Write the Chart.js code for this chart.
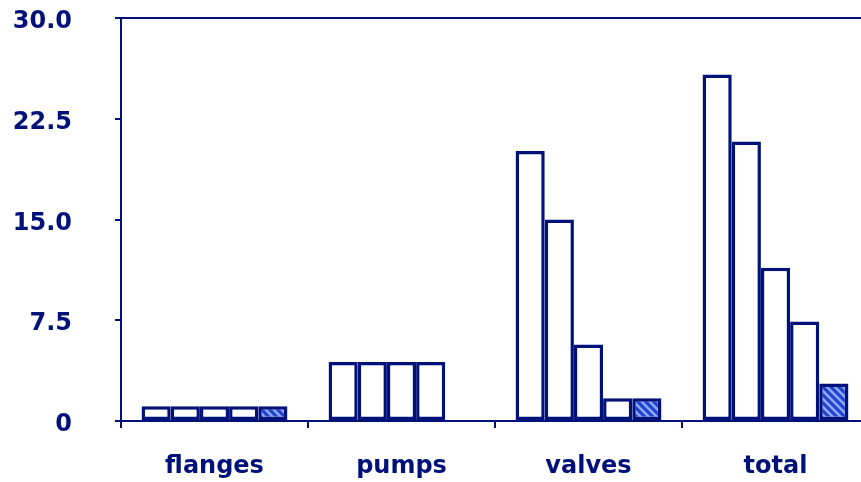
<!DOCTYPE html>
<html>
<head>
<meta charset="utf-8">
<script src="https://cdn.jsdelivr.net/npm/chart.js@4/dist/chart.umd.min.js"></script>
<style>
	body{margin:0;overflow:hidden;background:#fff}
	#box{width:872px;height:482px}
</style>
</head>
<body>
<div id="box"><canvas id="myChart"></canvas></div>
<script>
"use strict"
// values
const categories = ['flanges', 'pumps', 'valves', 'total']
const serie1 = [1.1, 4.4, 20.1, 25.8]
const serie2 = [1.1, 4.4, 15.0, 20.8]
const serie3 = [1.1, 4.4, 5.7, 11.4]
const serie4 = [1.1, 4.4, 1.7, 7.4]
const serie5 = [1.1, null, 1.7, 2.8]
const yTicks = [0, 7.5, 15, 22.5, 30]

const navy = '#00127a'

let hatch=()=>{
	let c = document.createElement('canvas')
	c.width = 8
	c.height = 8
	let g = c.getContext('2d')
	g.fillStyle = '#2244cc'
	g.fillRect(0, 0, 8, 8)
	g.strokeStyle = '#8eaaff'
	g.lineWidth = 2.5
	g.beginPath()
	g.moveTo(-2, -2); g.lineTo(10, 10)
	g.moveTo(-6, 2); g.lineTo(6, 14)
	g.moveTo(2, -6); g.lineTo(14, 6)
	g.stroke()
	return g.createPattern(c, 'repeat')
}

let bar=(data, fill)=>({
	data : data,
	backgroundColor : fill,
	borderColor : navy,
	borderWidth : 3.5,
	borderSkipped : false,
	categoryPercentage : 0.78,
	barPercentage : 1.0
})

let ctx = document.getElementById('myChart')
let myBarChart = new Chart(ctx, {
	type : 'bar',
	data : {
		labels : categories,
		datasets : [
			bar(serie1, '#ffffff'),
			bar(serie2, '#ffffff'),
			bar(serie3, '#ffffff'),
			bar(serie4, '#ffffff'),
			bar(serie5, hatch())
		]
	},
	options : {
		responsive : true,
		maintainAspectRatio : false,
		animation : false,
		layout : {padding : {top : 18, right : 3, left : 0, bottom : 0}},
		plugins : {legend : {display : false}, tooltip : {enabled : false}},
		scales : {
			x : {
				afterFit : s=>{ s.height = 61 },
				border : {color : navy, width : 2},
				grid : {drawOnChartArea : false, tickLength : 7, color : navy, lineWidth : 2, offset : true},
				ticks : {
					color : navy,
					padding : 24,
					font : {family : 'DejaVu Sans', weight : 'bold', size : 24}
				}
			},
			y : {
				min : 0,
				max : 30,
				afterFit : s=>{ s.width = 121; s.paddingTop = 0; s.paddingBottom = 0 },
				afterBuildTicks : s=>{ s.ticks = yTicks.map(v=>({value : v})) },
				border : {color : navy, width : 2},
				grid : {
					color : c=> c.tick && c.tick.value === 30 ? navy : 'rgba(0,0,0,0)',
					tickColor : navy,
					tickLength : 6,
					lineWidth : 2
				},
				ticks : {
					color : navy,
					padding : 43,
					labelOffset : 4,
					callback : v=> v === 0 ? '0' : v.toFixed(1),
					font : {family : 'DejaVu Sans', weight : 'bold', size : 24}
				}
			}
		}
	}
})
</script>
</body>
</html>
